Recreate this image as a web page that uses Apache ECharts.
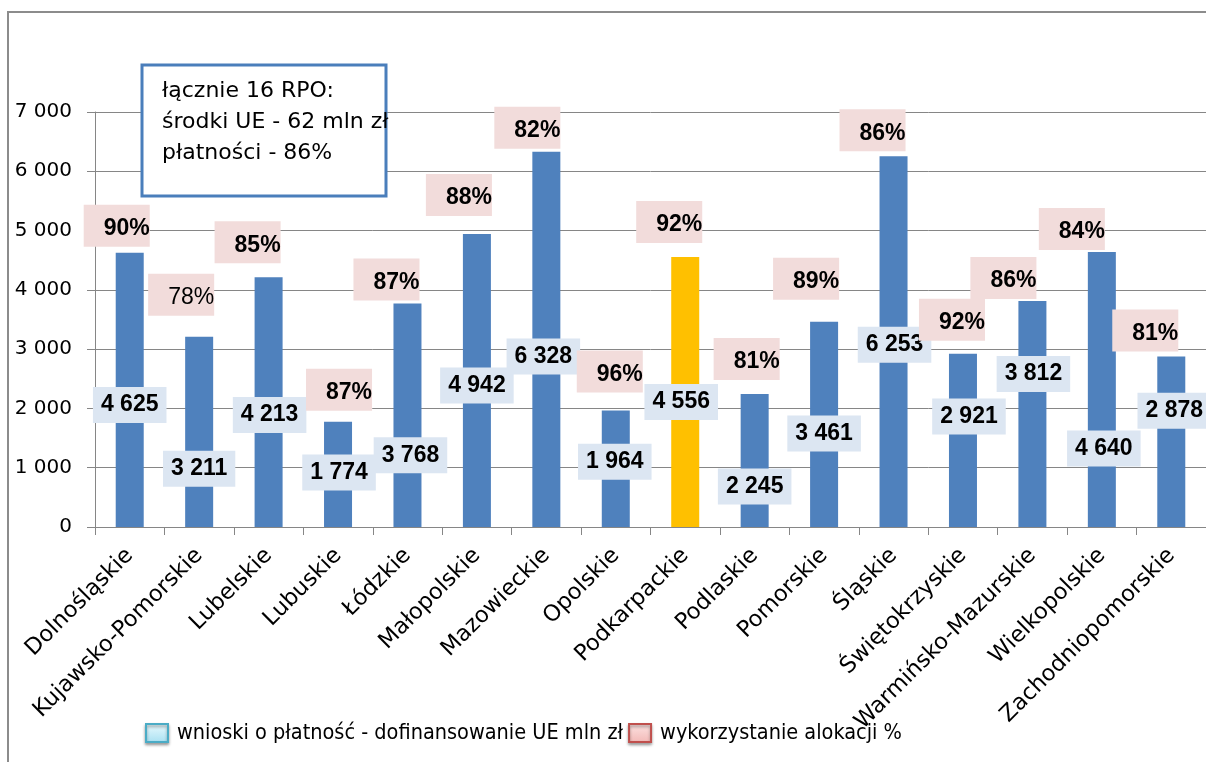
<!DOCTYPE html>
<html><head><meta charset="utf-8">
<script src="https://cdn.jsdelivr.net/npm/echarts@6/dist/echarts.min.js"></script>
<style>html,body{margin:0;padding:0;background:#fff}#c{width:1206px;height:762px}</style>
</head><body><div id="c"></div>
<script>
// ---- data ----
const regions = ['Dolnośląskie','Kujawsko-Pomorskie','Lubelskie','Lubuskie','Łódzkie','Małopolskie','Mazowieckie','Opolskie','Podkarpackie','Podlaskie','Pomorskie','Śląskie','Świętokrzyskie','Warmińsko-Mazurskie','Wielkopolskie','Zachodniopomorskie'];
const payments = [4625,3211,4213,1774,3768,4942,6328,1964,4556,2245,3461,6253,2921,3812,4640,2878];
const allocation = [90,78,85,87,87,88,82,96,92,81,89,86,92,86,84,81];
const yMin = 0, yMax = 7000, yStep = 1000;
const seriesNames = ['wnioski o płatność - dofinansowanie UE mln zł','wykorzystanie alokacji %'];
const noteLines = ['łącznie 16 RPO:','środki UE - 62 mln zł','płatności - 86%'];
const highlighted = 'Podkarpackie';

// ---- label placement (pixels, layout only) ----
const valueLabelShift = [[0,15],[0,37],[1,13],[1,-2],[3,40],[0,5],[-3,17],[-1,-7],[-4,10],[0,26],[0,9],[1,3],[6,-24],[1,-40],[2,59],[3,-31]];
const pctLabelShift = [[-13,-6],[-18,-21],[-21,-14],[1,-11],[-21,-3],[-18,-18],[-19,-3],[-6,-18],[-16,-14],[-8,-14],[-18,-22],[-21,-5],[-11,-13],[-29,-2],[-30,-2],[-26,-5]];

const fmt = v => String(v).replace(/\B(?=(\d{3})+(?!\d))/g, ' ');
const gridColor = '#868686';

const chart = echarts.init(document.getElementById('c'), null, {renderer:'canvas'});
chart.setOption({
  animation: false,
  backgroundColor: '#fff',
  grid: {left: 95, top: 112, width: 1117, height: 415},
  legend: {
    left: 140, top: 717, itemWidth: 22, itemHeight: 18, itemGap: 5, icon: 'rect', selectedMode: false,
    textStyle: {fontFamily: 'DejaVu Sans Condensed, Liberation Sans Narrow, sans-serif', fontSize: 21.5, color: '#000', padding: [0,0,0,4]},
    data: [
      {name: seriesNames[0], itemStyle: {color: {type:'linear',x:0,y:0,x2:0,y2:1,colorStops:[{offset:0,color:'#eafafe'},{offset:1,color:'#a8e0f2'}]}, borderColor:'#4bacc6', borderWidth:2, shadowBlur:3, shadowColor:'rgba(0,0,0,0.35)', shadowOffsetY:2}},
      {name: seriesNames[1], itemStyle: {color: {type:'linear',x:0,y:0,x2:0,y2:1,colorStops:[{offset:0,color:'#fde4e3'},{offset:1,color:'#f2b8b6'}]}, borderColor:'#c0504d', borderWidth:2, shadowBlur:3, shadowColor:'rgba(0,0,0,0.35)', shadowOffsetY:2}}
    ]
  },
  xAxis: {
    type: 'category', data: regions,
    axisLine: {show: true, lineStyle: {color: gridColor, width: 1}},
    axisTick: {show: true, length: 8, alignWithLabel: false, interval: 0, lineStyle: {color: gridColor}},
    axisLabel: {rotate: 45, interval: 0, margin: 25, color: '#000', fontFamily: 'DejaVu Sans', fontSize: 22.5}
  },
  yAxis: {
    type: 'value', min: yMin, max: yMax, interval: yStep,
    axisLine: {show: true, lineStyle: {color: gridColor, width: 1}},
    axisTick: {show: true, length: 8, lineStyle: {color: gridColor}},
    splitLine: {show: true, lineStyle: {color: gridColor, width: 1}},
    axisLabel: {formatter: fmt, margin: 23, color: '#000', fontFamily: 'DejaVu Sans', fontSize: 20}
  },
  series: [
    {
      name: seriesNames[0], type: 'bar', barWidth: 28, z: 2,
      itemStyle: {color: '#4f81bd'},
      data: payments.map((v, i) => ({
        value: v,
        itemStyle: {color: regions[i] === highlighted ? '#ffc000' : '#4f81bd'},
        label: {offset: valueLabelShift[i]}
      })),
      label: {
        show: true, position: 'inside', formatter: p => fmt(p.value),
        color: '#000', textBorderWidth: 0, fontFamily: 'Liberation Sans, Arial, sans-serif', fontWeight: 'bold',
        fontSize: 23, lineHeight: 24, backgroundColor: '#dce6f2', padding: [6, 8, 6, 8]
      }
    },
    {
      name: seriesNames[1], type: 'bar', barWidth: 28, barGap: '-100%', z: 3, silent: true,
      itemStyle: {color: 'rgba(0,0,0,0)'},
      data: payments.map((v, i) => ({
        value: v,
        label: {offset: pctLabelShift[i], fontWeight: i === 1 ? 'normal' : 'bold'}
      })),
      label: {
        show: true, position: 'top', distance: 0, formatter: p => allocation[p.dataIndex] + '%',
        color: '#000', textBorderWidth: 0, fontFamily: 'Liberation Sans, Arial, sans-serif', fontWeight: 'bold',
        fontSize: 23, lineHeight: 24, backgroundColor: '#f2dcdb', padding: [12, 0, 6, 20]
      }
    }
  ],
  graphic: [
    {type: 'rect', silent: true, z: -10, shape: {x: 8, y: 12, width: 1400, height: 900}, style: {fill: 'none', stroke: '#8c8c8c', lineWidth: 2}},
    {type: 'rect', silent: true, z: 100, shape: {x: 142, y: 65, width: 244, height: 131}, style: {fill: '#fff', stroke: '#4a7ebb', lineWidth: 3}},
    {type: 'text', silent: true, z: 101, x: 162, y: 76, style: {text: noteLines.join('\n'), font: '22px "DejaVu Sans"', lineHeight: 31, fill: '#000', textVerticalAlign: 'top'}}
  ]
});
</script></body></html>
